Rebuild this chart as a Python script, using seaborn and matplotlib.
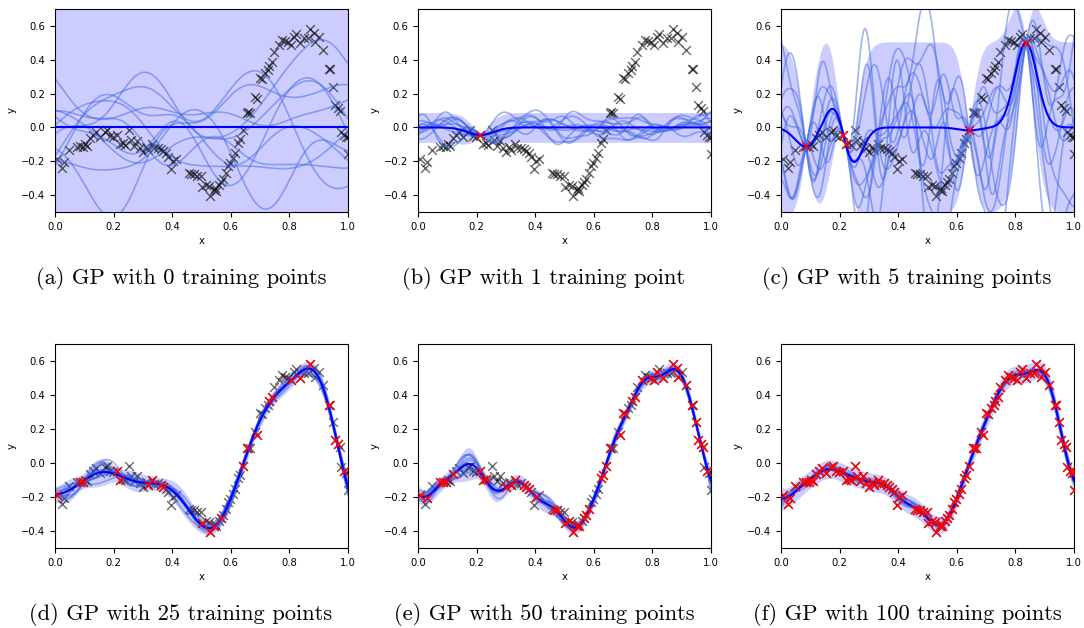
import numpy as np
import matplotlib
matplotlib.use("Agg")
import matplotlib.pyplot as plt
import seaborn as sns

# Observed data (x, y)
data_x = [0.006, 0.023, 0.031, 0.049, 0.074, 0.085, 0.097, 0.110, 0.120, 0.131,
          0.140, 0.154, 0.169, 0.179, 0.188, 0.199, 0.213, 0.221, 0.231, 0.239,
          0.251, 0.260, 0.270, 0.281, 0.290, 0.300, 0.310, 0.319, 0.330, 0.339,
          0.353, 0.362, 0.370, 0.378, 0.385, 0.395, 0.404, 0.412, 0.456, 0.465,
          0.473, 0.484, 0.499, 0.503, 0.515, 0.524, 0.530, 0.541, 0.550, 0.559,
          0.567, 0.575, 0.584, 0.592, 0.598, 0.607, 0.615, 0.626, 0.632, 0.641,
          0.655, 0.664, 0.683, 0.689, 0.700, 0.708, 0.718, 0.727, 0.732, 0.740,
          0.748, 0.763, 0.774, 0.784, 0.795, 0.806, 0.814, 0.822, 0.836, 0.849,
          0.871, 0.883, 0.888, 0.900, 0.915, 0.934, 0.940, 0.948, 0.957, 0.966,
          0.974, 0.977, 0.985, 0.993, 1.000, 1.000, 0.104, 0.545, 0.862, 0.659]
data_y = [-0.186, -0.241, -0.206, -0.135, -0.114, -0.112, -0.114, -0.108, -0.063, -0.045,
          -0.029, -0.059, -0.025, -0.016, -0.049, -0.055, -0.045, -0.099, -0.094, -0.102,
          -0.016, -0.075, -0.108, -0.078, -0.120, -0.143, -0.114, -0.131, -0.100, -0.124,
          -0.120, -0.129, -0.139, -0.153, -0.173, -0.247, -0.200, -0.186, -0.271, -0.275,
          -0.278, -0.290, -0.290, -0.353, -0.339, -0.345, -0.408, -0.369, -0.373, -0.339,
          -0.324, -0.304, -0.271, -0.231, -0.212, -0.182, -0.153, -0.090, -0.071, -0.018,
          0.086, 0.086, 0.180, 0.167, 0.292, 0.288, 0.322, 0.341, 0.363, 0.386,
          0.445, 0.488, 0.518, 0.508, 0.502, 0.490, 0.533, 0.553, 0.500, 0.529,
          0.582, 0.557, 0.504, 0.533, 0.459, 0.343, 0.343, 0.239, 0.135, 0.112,
          0.096, -0.025, -0.045, -0.059, -0.055, -0.157, -0.100, -0.360, 0.530, 0.090]

# Indices of the points used for training in each panel
train_b = [16]
train_c = [5, 16, 17, 59, 78]
train_d = [0, 5, 6, 16, 17, 27, 28, 31, 32, 43, 46, 47, 50, 59, 60, 63, 68, 69,
           75, 78, 80, 85, 88, 89, 92]
train_e = train_d + [2, 4, 8, 18, 25, 33, 36, 39, 40, 44, 48, 51, 52, 57, 58,
                     64, 65, 71, 74, 76, 81, 82, 84, 87, 90]
train_f = list(range(100))
train_sets = [[], train_b, train_c, train_d, train_e, train_f]

captions = ["(a) GP with 0 training points", "(b) GP with 1 training point",
            "(c) GP with 5 training points", "(d) GP with 25 training points",
            "(e) GP with 50 training points", "(f) GP with 100 training points"]

# RBF kernel hyperparameters per panel: length scale, signal std, noise std
length_scales = [0.13, 0.045, 0.038, 0.100, 0.060, 0.070]
signal_stds = [0.20, 0.045, 0.258, 0.30, 0.28, 0.30]
noise_stds = [0.0, 0.002, 0.0005, 0.018, 0.018, 0.025]
n_samples = 10

X_ALL = np.asarray(data_x)
Y_ALL = np.asarray(data_y)
grid = np.linspace(0.0, 1.0, 400)


def rbf(a, b, ell, sf):
    d = a[:, None] - b[None, :]
    return sf ** 2 * np.exp(-0.5 * d ** 2 / ell ** 2)


def posterior(idx, ell, sf, sn):
    kgg = rbf(grid, grid, ell, sf)
    if len(idx) == 0:
        return np.zeros_like(grid), kgg
    xt = X_ALL[idx]
    yt = Y_ALL[idx]
    K = rbf(xt, xt, ell, sf) + (sn ** 2 + 1e-8) * np.eye(len(idx))
    Ks = rbf(grid, xt, ell, sf)
    mean = Ks @ np.linalg.solve(K, yt)
    cov = kgg - Ks @ np.linalg.solve(K, Ks.T)
    return mean, cov


rng = np.random.default_rng(7)

fig = plt.figure(figsize=(10.84, 6.28), dpi=100)
W, H = 1084.0, 628.0
lefts = [55, 418, 781]
rows = [(9, 212), (344, 548)]
caption_y = [278, 615]

for k in range(6):
    r, c = divmod(k, 3)
    top, bot = rows[r]
    ax = fig.add_axes([lefts[c] / W, (H - bot) / H, 293 / W, (bot - top) / H])
    idx = train_sets[k]
    sn = noise_stds[k]
    mean, cov = posterior(idx, length_scales[k], signal_stds[k], sn)
    # predictive spread includes the observation noise
    std = np.sqrt(np.clip(np.diag(cov), 0, None) + sn ** 2)
    if k == 0:
        # an unfitted model reports the unit prior variance for its band
        std = np.ones_like(grid)
    ax.fill_between(grid, mean - 1.96 * std, mean + 1.96 * std,
                    color="blue", alpha=0.2, lw=0)
    covj = cov + 1e-7 * signal_stds[k] ** 2 * np.eye(len(grid))
    w, v = np.linalg.eigh(covj)
    L = v * np.sqrt(np.clip(w, 0, None))
    draws = mean[:, None] + L @ rng.standard_normal((len(grid), n_samples))
    for j in range(n_samples):
        sns.lineplot(x=grid, y=draws[:, j], ax=ax, color="royalblue",
                     alpha=0.5, lw=1.2, sort=False, legend=False)
    sns.scatterplot(x=X_ALL, y=Y_ALL, ax=ax, marker="x", color="black",
                    alpha=0.6, s=40, linewidth=1.0, legend=False)
    sns.lineplot(x=grid, y=mean, ax=ax, color="blue", lw=1.5, sort=False,
                 legend=False)
    if idx:
        sns.scatterplot(x=X_ALL[idx], y=Y_ALL[idx], ax=ax, marker="x",
                        color="red", s=40, linewidth=1.0, legend=False,
                        zorder=5)
    ax.set_xlim(0, 1)
    ax.set_ylim(-0.5, 0.7)
    ax.set_xticks(np.arange(0, 1.01, 0.2))
    ax.set_yticks(np.arange(-0.4, 0.61, 0.2))
    ax.tick_params(labelsize=7.2, length=3.5, width=0.8)
    ax.set_xlabel("x", fontsize=7.2, labelpad=3)
    ax.set_ylabel("y", fontsize=7.2, labelpad=3)
    for s in ax.spines.values():
        s.set_linewidth(0.8)
    cx = (lefts[c] + 146.5 - 20.5) / W
    fig.text(cx, (H - caption_y[r]) / H, captions[k], ha="center", va="center",
             fontsize=16.2, family=["cmr10", "DejaVu Serif"])

fig.savefig("out.png", dpi=100)
